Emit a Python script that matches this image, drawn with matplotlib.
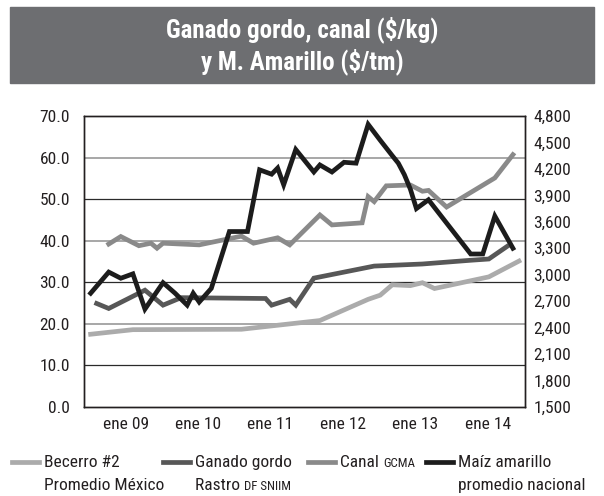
import numpy as np
import matplotlib
matplotlib.use("Agg")
import matplotlib.pyplot as plt
from matplotlib import font_manager as fm
from matplotlib.patches import Rectangle
from matplotlib.lines import Line2D

# fuente estrecha: la primera que haya instalada
installed = {f.name for f in fm.fontManager.ttflist}
condensed = [f for f in fm.fontManager.ttflist
             if f.name == 'DejaVu Sans' and 'condensed' in str(f.stretch)]
family = 'Roboto'
stretch = 'normal'
for cand in ['Liberation Sans Narrow', 'Roboto Condensed', 'DejaVu Sans Condensed']:
    if cand in installed:
        family = cand
        break
else:
    if condensed:
        family, stretch = 'DejaVu Sans', 'condensed'
plt.rcParams['font.family'] = [family, 'DejaVu Sans']
plt.rcParams['font.stretch'] = stretch
narrow = family != 'Roboto'

# meses contados desde enero 2009
becerro_m = [-5, 2, 20, 33, 41, 43, 45, 48, 50, 52, 61, 66]
becerro = [17.5, 18.6, 18.7, 20.8, 25.9, 26.9, 29.4, 29.2, 29.9, 28.5, 31.3, 35.1]

gordo_m = [-4, -2, 4, 7, 10, 24, 25, 28, 29, 32, 42, 50, 58, 61, 64]
gordo = [24.9, 23.7, 28.1, 24.5, 26.3, 26.1, 24.5, 25.9, 24.5, 31.0, 33.9, 34.4, 35.3, 35.6, 38.6]

canal_m = [-2, 0, 3, 5, 6, 7, 13, 17, 20, 22, 26, 28, 33, 35, 40, 41, 42, 44,
           48, 50, 51, 54, 62, 65]
canal = [39.2, 41.0, 38.8, 39.4, 38.2, 39.4, 39.0, 40.2, 41.1, 39.4, 40.7, 39.0,
         46.2, 43.8, 44.3, 50.6, 49.4, 53.2, 53.4, 51.9, 52.1, 48.1, 55.1, 60.7]

maiz_m = [-5, -2, 0, 2, 4, 5, 7, 9, 11, 12, 13, 15, 18, 21, 23, 25, 26, 27, 29,
          32, 33, 35, 37, 39, 41, 43, 45, 46, 47, 48, 49, 51, 58, 60, 62, 65]
maiz = [2790, 3030, 2960, 3010, 2610, 2710, 2910, 2790, 2655, 2790, 2690, 2845,
        3490, 3490, 4190, 4140, 4210, 4020, 4420, 4165, 4245, 4165, 4275, 4265,
        4705, 4525, 4350, 4265, 4135, 3970, 3750, 3850, 3235, 3235, 3665, 3300]

year_labels = ['ene 09', 'ene 10', 'ene 11', 'ene 12', 'ene 13', 'ene 14']

c_becerro = '#ababab'
c_gordo = '#575757'
c_canal = '#8a8a8a'
c_maiz = '#1c1c1c'
lw = 3.4
fs = 12.5 if narrow else 11.5
fs_title = 18 if narrow else 15

fig = plt.figure(figsize=(6.04, 4.96), dpi=100)

# banda del titulo
fig.patches.append(Rectangle((10 / 604, 1 - 83 / 496), 584 / 604, 76 / 496,
                             transform=fig.transFigure, color='#6d6e71', zorder=0))
fig.text(0.5, 1 - 30 / 496, 'Ganado gordo, canal ($/kg)', ha='center', va='center',
         color='white', fontsize=fs_title, fontweight='bold')
fig.text(0.5, 1 - 62 / 496, 'y M. Amarillo ($/tm)', ha='center', va='center',
         color='white', fontsize=fs_title, fontweight='bold')

ax = fig.add_axes([84 / 604, 1 - 407 / 496, 441 / 604, 291 / 496])
ax2 = ax.twinx()

ax.plot(becerro_m, becerro, color=c_becerro, lw=lw, solid_joinstyle='miter')
ax.plot(gordo_m, gordo, color=c_gordo, lw=lw, solid_joinstyle='miter')
ax.plot(canal_m, canal, color=c_canal, lw=lw, solid_joinstyle='miter')
ax2.plot(maiz_m, maiz, color=c_maiz, lw=lw, solid_joinstyle='miter')

ax.set_xlim(-6.1, 67.0)
ax.set_ylim(0, 70)
ax2.set_ylim(1500, 4800)

ax.set_yticks(np.arange(0, 71, 10))
ax.set_yticklabels([f'{v:.1f}' for v in np.arange(0, 71, 10)])
ax2.set_yticks(np.arange(1500, 4801, 300))
ax2.set_yticklabels([f'{v:,}' for v in range(1500, 4801, 300)])
ax.set_xticks(np.arange(len(year_labels)) * 12 + 0.8)
ax.set_xticklabels(year_labels)

ax.tick_params(axis='y', length=0, pad=10, labelsize=fs, colors='#231f20')
ax2.tick_params(axis='y', length=0, pad=6, labelsize=fs, colors='#231f20')
ax.tick_params(axis='x', length=0, pad=7, labelsize=fs, colors='#231f20')

# lineas horizontales alternando tono
for v in range(10, 70, 10):
    ax.axhline(v, color='#8f8f8f' if (v // 10) % 2 == 0 else '#2a2a2a',
               lw=1.1 if (v // 10) % 2 == 0 else 0.9, zorder=0.5)

for a in (ax, ax2):
    for s in a.spines.values():
        s.set_color('#231f20')
        s.set_linewidth(1.0)

# leyenda inferior (versalitas alineadas a la linea base)
renderer = fig.canvas.get_renderer()
entries = [
    (c_becerro, 12, ('Becerro #2', ''), ('Promedio México', '')),
    (c_gordo, 163, ('Ganado gordo', ''), ('Rastro ', 'DF SNIIM')),
    (c_canal, 308, ('Canal ', 'GCMA'), None),
    (c_maiz, 426, ('Maíz amarillo', ''), ('promedio nacional', '')),
]
for color, x0, row1, row2 in entries:
    y_sw = 1 - 462 / 496
    fig.add_artist(Line2D([x0 / 604, (x0 + 27) / 604], [y_sw, y_sw],
                          transform=fig.transFigure, color=color, lw=lw))
    for row, ypx in ((row1, 467), (row2, 490)):
        if row is None:
            continue
        main, small = row
        t = fig.text((x0 + 32) / 604, 1 - ypx / 496, main, ha='left', va='baseline',
                     fontsize=fs, color='#231f20')
        if small:
            bb = t.get_window_extent(renderer)
            fig.text(bb.x1 / 604, 1 - ypx / 496, small, ha='left', va='baseline',
                     fontsize=fs * 0.74, color='#231f20')

fig.savefig('out.png', dpi=100)
